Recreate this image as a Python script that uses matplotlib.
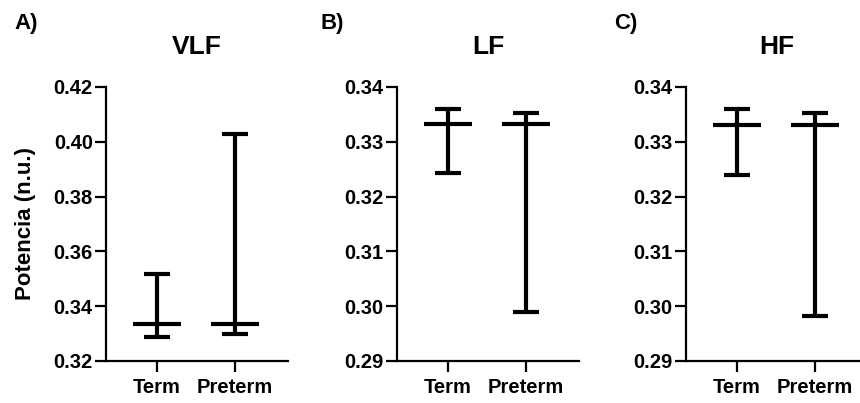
import matplotlib.pyplot as plt
import matplotlib.ticker as mticker

plt.rcParams['font.family'] = ['Liberation Sans', 'DejaVu Sans']
plt.rcParams['font.weight'] = 'bold'

grupos = ['Term', 'Preterm']

# median, min, max for each group
vlf_med = [0.3335, 0.3335]
vlf_min = [0.3286, 0.3299]
vlf_max = [0.3518, 0.4027]

lf_med = [0.3332, 0.3333]
lf_min = [0.3243, 0.2989]
lf_max = [0.3359, 0.3352]

hf_med = [0.3331, 0.3331]
hf_min = [0.3240, 0.2982]
hf_max = [0.3359, 0.3352]

paneles = [
    ('A)', 'VLF', vlf_med, vlf_min, vlf_max, [0.32, 0.34, 0.36, 0.38, 0.40, 0.42]),
    ('B)', 'LF', lf_med, lf_min, lf_max, [0.29, 0.30, 0.31, 0.32, 0.33, 0.34]),
    ('C)', 'HF', hf_med, hf_min, hf_max, [0.29, 0.30, 0.31, 0.32, 0.33, 0.34]),
]

fig = plt.figure(figsize=(8.6, 4.03), dpi=100)
lefts = [106, 397, 686]
letra_x = [14, 321, 614]

for i, (letra, titulo, med, mn, mx, yt) in enumerate(paneles):
    ax = fig.add_axes([lefts[i] / 860, 42 / 403, 182 / 860, 274 / 403])
    x = list(range(len(grupos)))
    err_lo = [m - a for m, a in zip(med, mn)]
    err_hi = [b - m for m, b in zip(med, mx)]
    ax.errorbar(x, med, yerr=[err_lo, err_hi], fmt='none', ecolor='black',
                elinewidth=3, capsize=9.5, capthick=3)
    ax.hlines(med, [v - 0.31 for v in x], [v + 0.31 for v in x], colors='black', linewidth=3)

    ax.set_xlim(-0.65, 1.68)
    ax.set_ylim(yt[0], yt[-1])
    ax.set_yticks(yt)
    ax.yaxis.set_major_formatter(mticker.FormatStrFormatter('%.2f'))
    ax.set_xticks(x)
    ax.set_xticklabels(grupos)
    for s in ['top', 'right']:
        ax.spines[s].set_visible(False)
    for s in ['left', 'bottom']:
        ax.spines[s].set_linewidth(1.6)
    ax.tick_params(axis='both', length=8, width=1.6, labelsize=14.5, pad=1.5)
    ax.tick_params(axis='x', pad=4)
    for lab in ax.get_xticklabels() + ax.get_yticklabels():
        lab.set_fontweight('bold')

    ax.set_title(titulo, fontsize=19, fontweight='bold', pad=24)
    fig.text(letra_x[i] / 860, 1 - 23 / 403, letra, fontsize=16, fontweight='bold', va='center')
    if i == 0:
        ax.set_ylabel('Potencia (n.u.)', fontsize=16, fontweight='bold', labelpad=13)

fig.savefig('out.png', dpi=100)
